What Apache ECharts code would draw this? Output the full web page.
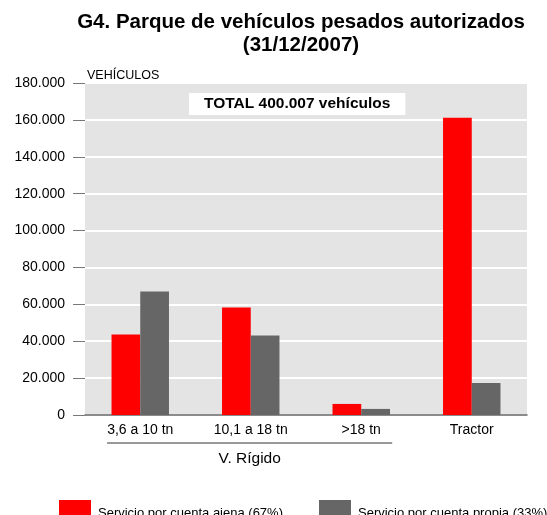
<!DOCTYPE html>
<html>
<head>
<meta charset="utf-8">
<script src="https://cdn.jsdelivr.net/npm/echarts@6/dist/echarts.min.js"></script>
<style>
  html, body { margin: 0; padding: 0; background: #fff; }
  #chart { width: 547px; height: 515px; }
</style>
</head>
<body>
<div id="chart"></div>
<script>
'use strict';

var categories = ['3,6 a 10 tn', '10,1 a 18 tn', '>18 tn', 'Tractor'];
var ajena = [43700, 58300, 6000, 161100];
var propia = [67000, 43100, 3300, 17400];
var seriesNames = ['Servicio por cuenta ajena (67%)', 'Servicio por cuenta propia (33%)'];
var groupLabel = 'V. Rígido';

var FONT = 'Liberation Sans, Arial, sans-serif';

function fmt(v) {
   return String(v).replace(/\B(?=(\d{3})+(?!\d))/g, '.');
}

var legendText = {
   fontSize: 13, color: '#000', fontFamily: FONT,
   rich: { t: { fontSize: 13, color: '#000', fontFamily: FONT, padding: [9, 0, 0, 2] } }
};

var chart = echarts.init(document.getElementById('chart'));

var option = {
   backgroundColor: '#fff',
   animation: false,
   textStyle: { fontFamily: FONT },
   title: [
      {
         text: 'G4. Parque de vehículos pesados autorizados\n(31/12/2007)',
         left: 301, top: 11, textAlign: 'center', padding: 0,
         textStyle: { fontSize: 20.5, fontWeight: 'bold', color: '#000', lineHeight: 23, fontFamily: FONT }
      },
      {
         text: 'VEHÍCULOS',
         left: 87, top: 69, padding: 0,
         textStyle: { fontSize: 12.5, fontWeight: 'normal', color: '#000', fontFamily: FONT }
      },
      {
         text: 'TOTAL 400.007 vehículos',
         left: 189, top: 93,
         backgroundColor: '#fff',
         padding: [3, 15, 3, 15],
         textStyle: { fontSize: 15.5, fontWeight: 'bold', color: '#000', fontFamily: FONT }
      }
   ],
   legend: [
      {
         data: [seriesNames[0]], left: 59, top: 500, padding: 0,
         itemWidth: 32, itemHeight: 18, icon: 'rect',
         formatter: '{t|{name}}',
         textStyle: legendText
      },
      {
         data: [seriesNames[1]], left: 319, top: 500, padding: 0,
         itemWidth: 32, itemHeight: 18, icon: 'rect',
         formatter: '{t|{name}}',
         textStyle: legendText
      }
   ],
   grid: {
      left: 85, right: 20, top: 83, bottom: 100,
      show: true, backgroundColor: '#e4e4e4', borderWidth: 0,
      containLabel: false
   },
   xAxis: {
      type: 'category',
      data: categories,
      axisLine: { lineStyle: { color: '#666', width: 1.5 } },
      axisTick: { show: false },
      axisLabel: { color: '#000', fontSize: 14, margin: 8, fontFamily: FONT }
   },
   yAxis: {
      type: 'value',
      min: 0, max: 180000, interval: 20000,
      axisLine: { show: false },
      axisTick: { show: true, length: 12, lineStyle: { color: '#777' } },
      axisLabel: {
         color: '#000', fontSize: 14, margin: 20, fontFamily: FONT,
         formatter: function (v) { return fmt(v); }
      },
      splitLine: { lineStyle: { color: '#fff', width: 2 } }
   },
   series: [
      {
         name: seriesNames[0], type: 'bar', data: ajena,
         itemStyle: { color: '#ff0000' },
         barGap: '0%', barCategoryGap: '48%'
      },
      {
         name: seriesNames[1], type: 'bar', data: propia,
         itemStyle: { color: '#666666' }
      }
   ]
};

chart.setOption(option);

// bracket under the three "V. Rígido" categories
var p0 = chart.convertToPixel({ xAxisIndex: 0 }, 0);
var p2 = chart.convertToPixel({ xAxisIndex: 0 }, 2);
var band = p2 - chart.convertToPixel({ xAxisIndex: 0 }, 1);
var x1 = p0 - band * 0.3;
var x2 = p2 + band * 0.28;
chart.setOption({
   graphic: [
      {
         type: 'line',
         shape: { x1: x1, y1: 443, x2: x2, y2: 443 },
         style: { stroke: '#333', lineWidth: 1 }
      },
      {
         type: 'text',
         x: (x1 + x2) / 2, y: 451,
         style: { text: groupLabel, fontSize: 15.5, fill: '#000', align: 'center', fontFamily: FONT }
      }
   ]
});
</script>
</body>
</html>
